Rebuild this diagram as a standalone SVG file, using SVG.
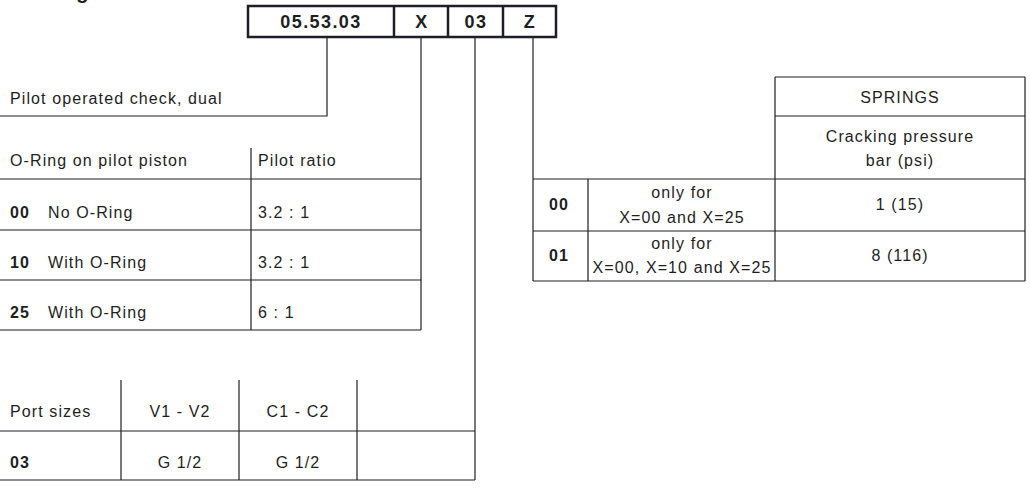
<svg xmlns="http://www.w3.org/2000/svg" width="1030" height="488" viewBox="0 0 1030 488">
<style>
  .ln { stroke:#1e1e26; stroke-width:1.2; fill:none; }
  .t { font-family:"Liberation Sans", Arial, sans-serif; font-size:16px; letter-spacing:1.1px; fill:#1e1e1e; }
  .b { font-weight:bold; }
  .c { text-anchor:middle; }
  .code { font-family:"Liberation Sans", Arial, sans-serif; font-size:18px; font-weight:bold; letter-spacing:1.4px; fill:#1e1e1e; text-anchor:middle; }
  .box { fill:#fff; stroke:#1e1e26; stroke-width:2.5; }
</style>
<rect width="1030" height="488" fill="#fff"/>

<text class="t b" x="4" y="-1" style="font-size:20px;letter-spacing:0">Ordering code</text>

<g id="code-box">
  <rect class="box" x="248" y="6" width="308" height="31"/>
  <line class="box" x1="394" y1="6" x2="394" y2="37"/>
  <line class="box" x1="448" y1="6" x2="448" y2="37"/>
  <line class="box" x1="503" y1="6" x2="503" y2="37"/>
  <text class="code" x="321" y="28">05.53.03</text>
  <text class="code" x="422" y="28">X</text>
  <text class="code" x="476" y="28">03</text>
  <text class="code" x="530" y="28">Z</text>
</g>

<g id="connectors">
  <polyline class="ln" points="327,37 327,116 0,116"/>
  <line class="ln" x1="421" y1="37" x2="421" y2="330"/>
  <line class="ln" x1="475" y1="37" x2="475" y2="480"/>
  <line class="ln" x1="533" y1="37" x2="533" y2="281"/>
</g>

<g id="type-label">
  <text class="t" x="10" y="104">Pilot operated check, dual</text>
</g>

<g id="oring-table">
  <line class="ln" x1="251" y1="148" x2="251" y2="330"/>
  <line class="ln" x1="0" y1="179" x2="421" y2="179"/>
  <line class="ln" x1="0" y1="230" x2="421" y2="230"/>
  <line class="ln" x1="0" y1="280" x2="421" y2="280"/>
  <line class="ln" x1="0" y1="330" x2="421" y2="330"/>
  <text class="t" x="10" y="166">O-Ring on pilot piston</text>
  <text class="t" x="258" y="166">Pilot ratio</text>
  <text class="t b" x="10" y="218">00</text>
  <text class="t" x="48" y="218">No O-Ring</text>
  <text class="t" x="258" y="218">3.2 : 1</text>
  <text class="t b" x="10" y="268">10</text>
  <text class="t" x="48" y="268">With O-Ring</text>
  <text class="t" x="258" y="268">3.2 : 1</text>
  <text class="t b" x="10" y="318">25</text>
  <text class="t" x="48" y="318">With O-Ring</text>
  <text class="t" x="258" y="318">6 : 1</text>
</g>

<g id="port-table">
  <line class="ln" x1="121" y1="380" x2="121" y2="480"/>
  <line class="ln" x1="239" y1="380" x2="239" y2="480"/>
  <line class="ln" x1="357" y1="380" x2="357" y2="480"/>
  <line class="ln" x1="0" y1="431" x2="475" y2="431"/>
  <line class="ln" x1="0" y1="480" x2="475" y2="480"/>
  <text class="t" x="10" y="417">Port sizes</text>
  <text class="t c" x="180" y="417">V1 - V2</text>
  <text class="t c" x="298" y="417">C1 - C2</text>
  <text class="t b" x="10" y="468">03</text>
  <text class="t c" x="180" y="468">G 1/2</text>
  <text class="t c" x="298" y="468">G 1/2</text>
</g>

<g id="springs-table">
  <line class="ln" x1="775" y1="77" x2="1025" y2="77"/>
  <line class="ln" x1="775" y1="116" x2="1025" y2="116"/>
  <line class="ln" x1="533" y1="179" x2="1025" y2="179"/>
  <line class="ln" x1="533" y1="231" x2="1025" y2="231"/>
  <line class="ln" x1="533" y1="281" x2="1025" y2="281"/>
  <line class="ln" x1="775" y1="77" x2="775" y2="281"/>
  <line class="ln" x1="1025" y1="77" x2="1025" y2="281"/>
  <line class="ln" x1="588" y1="179" x2="588" y2="281"/>
  <text class="t c" x="900" y="103">SPRINGS</text>
  <text class="t c" x="900" y="142">Cracking pressure</text>
  <text class="t c" x="900" y="166">bar (psi)</text>
  <text class="t b" x="549" y="210">00</text>
  <text class="t c" x="682" y="198">only for</text>
  <text class="t c" x="682" y="223">X=00 and X=25</text>
  <text class="t c" x="900" y="210">1 (15)</text>
  <text class="t b" x="549" y="261">01</text>
  <text class="t c" x="682" y="249">only for</text>
  <text class="t c" x="682" y="273">X=00, X=10 and X=25</text>
  <text class="t c" x="900" y="261">8 (116)</text>
</g>
</svg>
